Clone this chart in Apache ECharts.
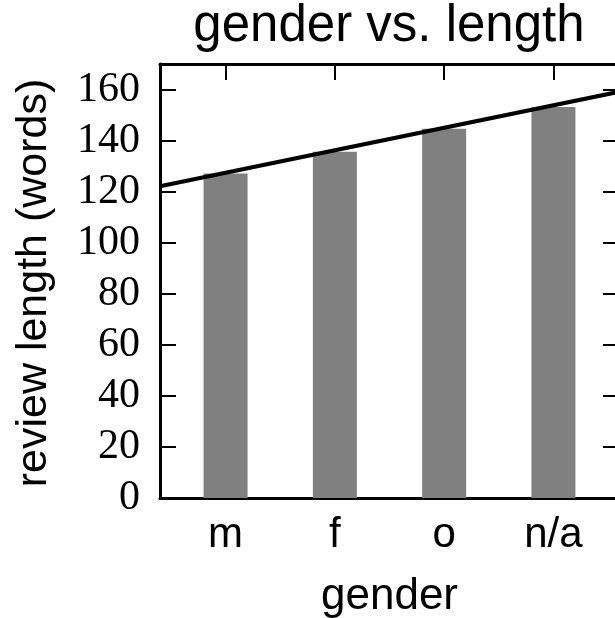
<!DOCTYPE html>
<html>
<head>
<meta charset="utf-8">
<script src="https://cdn.jsdelivr.net/npm/echarts@6/dist/echarts.min.js"></script>
<style>
html,body{margin:0;padding:0;background:#fff;overflow:hidden;}
#chart{width:615px;height:618px;}
</style>
</head>
<body>
<div id="chart"></div>
<script>
// ---- data ----
var categories = ['m', 'f', 'o', 'n/a'];
var reviewLength = [127.1, 135.6, 144.6, 153.2];
var trendX = [-0.6, 3.6];
var trendY = [122.1, 159.1];
var yTicks = [0, 20, 40, 60, 80, 100, 120, 140, 160];
var xTicks = [0, 1, 2, 3];

var chart = echarts.init(document.getElementById('chart'), null, {renderer: 'canvas'});

var barData = categories.map(function (c, i) { return [i, reviewLength[i]]; });
var trendData = trendX.map(function (x, i) { return [x, trendY[i]]; });

var axisLineStyle = {color: '#000', width: 3};
var tickStyle = {color: '#000', width: 2};

var option = {
  backgroundColor: '#fff',
  animation: false,
  title: {
    text: 'gender vs. length',
    left: 384,
    textAlign: 'center',
    top: -4,
    textStyle: {fontFamily: 'Liberation Sans', fontSize: 51, fontWeight: 'normal', color: '#000'}
  },
  grid: {left: 160, right: -4, top: 64, bottom: 120, containLabel: false, outerBoundsMode: 'none'},
  xAxis: [{
    type: 'value', min: -0.6, max: 3.6, position: 'bottom',
    name: 'gender', nameLocation: 'middle', nameGap: 77,
    nameTextStyle: {fontFamily: 'Liberation Sans', fontSize: 44, color: '#000'},
    axisLine: {show: true, onZero: false, lineStyle: axisLineStyle},
    axisTick: {show: true, inside: true, length: 16, lineStyle: tickStyle, customValues: xTicks},
    axisLabel: {show: true, margin: 16, fontFamily: 'Liberation Sans', fontSize: 42, color: '#000',
      customValues: xTicks,
      formatter: function (v) { return categories[Math.round(v)]; }},
    splitLine: {show: false}
  }, {
    type: 'value', min: -0.6, max: 3.6, position: 'top',
    axisLine: {show: true, onZero: false, lineStyle: axisLineStyle},
    axisTick: {show: true, inside: true, length: 16, lineStyle: tickStyle, customValues: xTicks},
    axisLabel: {show: false},
    splitLine: {show: false}
  }],
  yAxis: [{
    type: 'value', min: 0, max: 170, position: 'left',
    name: 'review length (words)', nameLocation: 'middle', nameGap: 104, nameRotate: 90,
    nameTextStyle: {fontFamily: 'Liberation Sans', fontSize: 43, color: '#000', padding: [0, 4, 0, 0]},
    axisLine: {show: true, onZero: false, lineStyle: axisLineStyle},
    axisTick: {show: true, inside: true, length: 16, lineStyle: tickStyle, customValues: yTicks},
    axisLabel: {show: true, margin: 20, fontFamily: 'Liberation Serif', fontSize: 42, color: '#000',
      customValues: yTicks},
    splitLine: {show: false}
  }, {
    type: 'value', min: 0, max: 170, position: 'right',
    axisLine: {show: true, onZero: false, lineStyle: axisLineStyle},
    axisTick: {show: true, inside: true, length: 16, lineStyle: tickStyle, customValues: yTicks},
    axisLabel: {show: false},
    splitLine: {show: false}
  }],
  series: [{
    type: 'bar',
    xAxisIndex: 0, yAxisIndex: 0,
    data: barData,
    barWidth: 44,
    itemStyle: {color: '#808080'},
    z: 1
  }, {
    type: 'line',
    xAxisIndex: 0, yAxisIndex: 0,
    data: trendData,
    showSymbol: false,
    symbol: 'none',
    clip: true,
    lineStyle: {color: '#000', width: 4},
    z: 3
  }]
};
chart.setOption(option);
</script>
</body>
</html>
